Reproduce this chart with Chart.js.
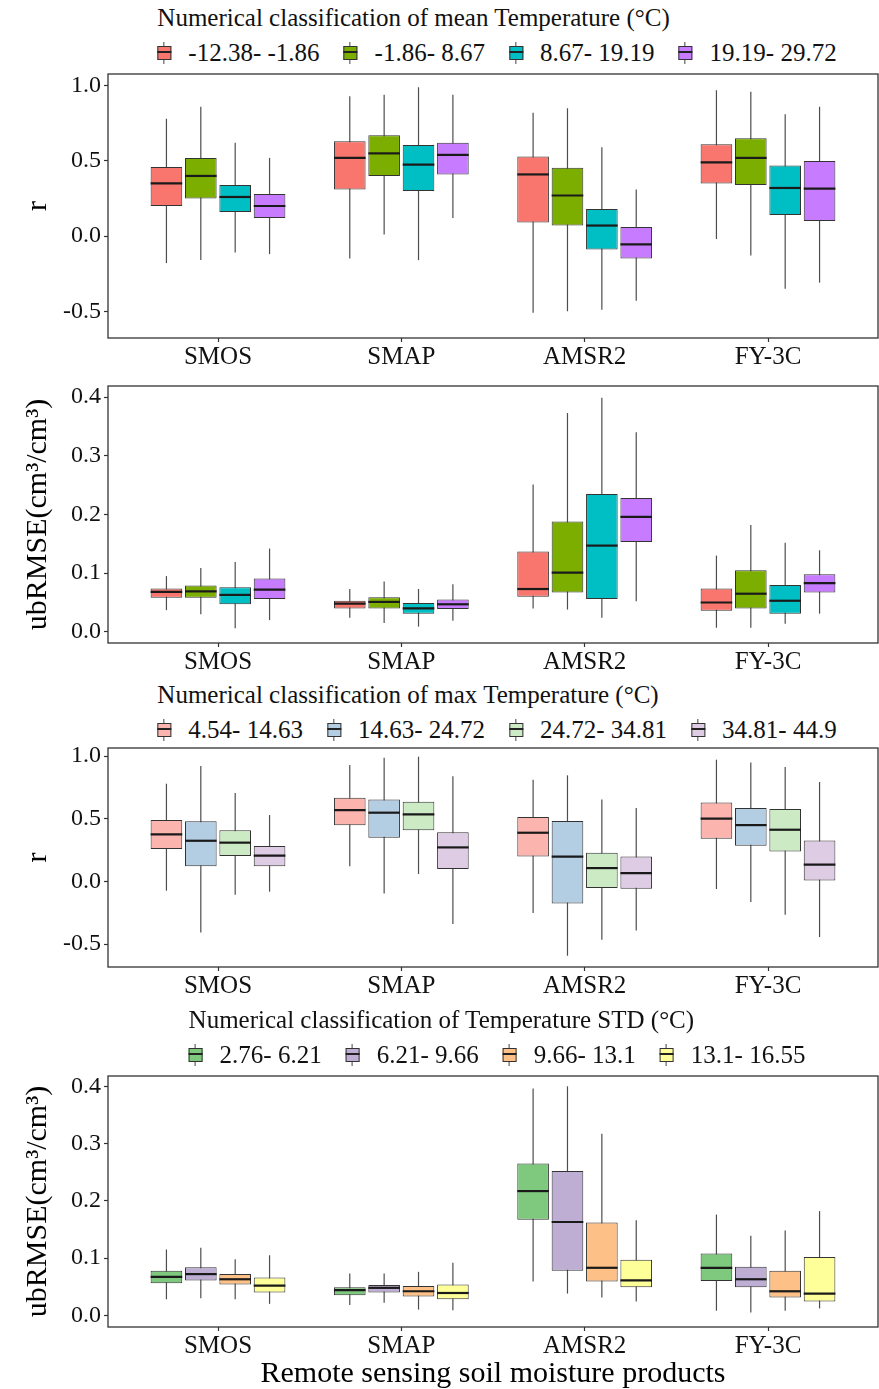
<!DOCTYPE html>
<html>
<head>
<meta charset="utf-8">
<title>Soil moisture products by temperature class</title>
<script src="https://cdn.jsdelivr.net/npm/chart.js@4.4.3/dist/chart.umd.min.js"></script>
<style>
    body { margin: 0; background: #fff; }
    #page {
        position: relative;
        width: 879px;
        height: 1389px;
        overflow: hidden;
        font-family: 'Liberation Serif', 'Times New Roman', serif;
        color: #111;
    }
    canvas { position: absolute; left: 0; }
    .legend {
        position: absolute;
        left: 497px;
        transform: translateX(-50%);
        white-space: nowrap;
    }
    .legend-title { font-size: 25px; line-height: 25px; height: 25px; }
    .legend-row { display: flex; align-items: center; margin-top: 10px; height: 25px; }
    .legend-item { display: flex; align-items: center; margin-right: 24px; font-size: 25px; line-height: 25px; }
    .legend-item:last-child { margin-right: 0; }
    .key { position: relative; width: 14px; height: 22px; margin-right: 17px; flex: none; }
    .key .wh { position: absolute; left: 6px; top: 0; width: 1px; height: 22px; background: #444; }
    .key .bx { position: absolute; left: 0; top: 4px; width: 12px; height: 12px; border: 1px solid #333; }
    .key .md { position: absolute; left: 0; top: 9px; width: 14px; height: 2px; background: #222; }
</style>
</head>
<body>
<div id="page">
    <div class="legend" id="legendMean" style="top:5px"></div>
    <canvas id="chartMeanR" width="879" height="310" style="top:70px"></canvas>
    <canvas id="chartMeanUb" width="879" height="300" style="top:380px"></canvas>
    <div class="legend" id="legendMax" style="top:682px"></div>
    <canvas id="chartMaxR" width="879" height="265" style="top:742px"></canvas>
    <div class="legend" id="legendStd" style="top:1007px"></div>
    <canvas id="chartStdUb" width="879" height="319" style="top:1070px"></canvas>
</div>

<script>
    'use strict';

    // ---- data ----
    const products = ['SMOS', 'SMAP', 'AMSR2', 'FY-3C'];
    const rTicks = [-0.5, 0.0, 0.5, 1.0];
    const ubTicks = [0.0, 0.1, 0.2, 0.3, 0.4];

    const meanClasses = ['-12.38- -1.86', '-1.86- 8.67', '8.67- 19.19', '19.19- 29.72'];
    const maxClasses = ['4.54- 14.63', '14.63- 24.72', '24.72- 34.81', '34.81- 44.9'];
    const stdClasses = ['2.76- 6.21', '6.21- 9.66', '9.66- 13.1', '13.1- 16.55'];

    // each row = one class, each column = one product (SMOS, SMAP, AMSR2, FY-3C)
    // r by mean temperature
    const meanRLow = [[-0.18, -0.15, -0.51, -0.02], [-0.16, 0.01, -0.50, -0.13], [-0.11, -0.16, -0.49, -0.35], [-0.12, 0.12, -0.43, -0.31]];
    const meanRQ1 = [[0.20, 0.31, 0.09, 0.35], [0.25, 0.40, 0.07, 0.34], [0.16, 0.30, -0.09, 0.14], [0.12, 0.41, -0.15, 0.10]];
    const meanRMed = [[0.35, 0.52, 0.41, 0.49], [0.40, 0.55, 0.27, 0.52], [0.26, 0.475, 0.07, 0.32], [0.20, 0.54, -0.055, 0.315]];
    const meanRQ3 = [[0.46, 0.63, 0.53, 0.61], [0.52, 0.67, 0.455, 0.65], [0.34, 0.605, 0.18, 0.47], [0.28, 0.62, 0.06, 0.50]];
    const meanRHigh = [[0.78, 0.93, 0.82, 0.97], [0.86, 0.94, 0.85, 0.96], [0.62, 0.99, 0.59, 0.81], [0.52, 0.94, 0.31, 0.86]];

    // ubRMSE by mean temperature
    const meanUbLow = [[0.037, 0.024, 0.040, 0.007], [0.030, 0.015, 0.038, 0.007], [0.006, 0.009, 0.024, 0.014], [0.020, 0.019, 0.052, 0.031]];
    const meanUbQ1 = [[0.058, 0.040, 0.060, 0.036], [0.058, 0.040, 0.067, 0.040], [0.047, 0.031, 0.056, 0.031], [0.056, 0.039, 0.153, 0.067]];
    const meanUbMed = [[0.068, 0.048, 0.073, 0.050], [0.069, 0.051, 0.101, 0.065], [0.063, 0.040, 0.147, 0.053], [0.072, 0.047, 0.196, 0.083]];
    const meanUbQ3 = [[0.074, 0.053, 0.137, 0.074], [0.079, 0.059, 0.188, 0.105], [0.076, 0.049, 0.235, 0.080], [0.091, 0.055, 0.228, 0.098]];
    const meanUbHigh = [[0.095, 0.073, 0.251, 0.130], [0.109, 0.086, 0.373, 0.182], [0.119, 0.073, 0.399, 0.152], [0.142, 0.081, 0.340, 0.139]];

    // r by max temperature
    const maxRLow = [[-0.074, 0.12, -0.253, -0.061], [-0.407, -0.096, -0.593, -0.165], [-0.106, 0.059, -0.465, -0.266], [-0.082, -0.34, -0.391, -0.444]];
    const maxRQ1 = [[0.258, 0.447, 0.199, 0.34], [0.12, 0.348, -0.176, 0.285], [0.202, 0.407, -0.053, 0.239], [0.12, 0.098, -0.059, 0.008]];
    const maxRMed = [[0.375, 0.569, 0.388, 0.50], [0.324, 0.548, 0.197, 0.449], [0.309, 0.535, 0.106, 0.412], [0.205, 0.271, 0.066, 0.133]];
    const maxRQ3 = [[0.489, 0.668, 0.513, 0.63], [0.479, 0.654, 0.481, 0.585], [0.407, 0.636, 0.229, 0.577], [0.282, 0.391, 0.199, 0.327]];
    const maxRHigh = [[0.779, 0.928, 0.811, 0.971], [0.92, 0.987, 0.846, 0.949], [0.705, 0.995, 0.654, 0.912], [0.529, 0.838, 0.585, 0.793]];

    // ubRMSE by temperature STD
    const stdUbLow = [[0.028, 0.018, 0.059, 0.008], [0.030, 0.022, 0.038, 0.005], [0.028, 0.010, 0.031, 0.008], [0.020, 0.009, 0.024, 0.012]];
    const stdUbQ1 = [[0.056, 0.035, 0.167, 0.060], [0.061, 0.040, 0.078, 0.049], [0.054, 0.033, 0.059, 0.031], [0.040, 0.028, 0.049, 0.024]];
    const stdUbMed = [[0.067, 0.044, 0.217, 0.083], [0.072, 0.048, 0.163, 0.063], [0.063, 0.042, 0.083, 0.042], [0.052, 0.039, 0.061, 0.038]];
    const stdUbQ3 = [[0.078, 0.049, 0.265, 0.108], [0.084, 0.053, 0.252, 0.085], [0.072, 0.051, 0.162, 0.078], [0.066, 0.054, 0.097, 0.102]];
    const stdUbHigh = [[0.115, 0.073, 0.396, 0.176], [0.118, 0.073, 0.400, 0.139], [0.098, 0.076, 0.317, 0.148], [0.105, 0.092, 0.166, 0.182]];

    // ---- palettes ----
    const hueColors = ['#F8766D', '#7CAE00', '#00BFC4', '#C77CFF'];
    const pastelColors = ['#FBB4AE', '#B3CDE3', '#CCEBC5', '#DECBE4'];
    const accentColors = ['#7FC97F', '#BEAED4', '#FDC086', '#FFFF99'];

    const SERIF = "'Liberation Serif', 'Times New Roman', serif";
    Chart.defaults.font.family = SERIF;
    Chart.defaults.color = '#111';

    /**
     * Whiskers behind the boxes, medians and the panel frame on top
     */
    const boxParts = {
        id: 'boxParts',
        beforeDatasetsDraw(chart) {
            const { ctx } = chart;
            const yScale = chart.scales.y;
            ctx.save();
            ctx.strokeStyle = '#4d4d4d';
            ctx.lineWidth = 1.2;
            chart.data.datasets.forEach((ds, k) => {
                chart.getDatasetMeta(k).data.forEach((bar, i) => {
                    ctx.beginPath();
                    ctx.moveTo(bar.x, yScale.getPixelForValue(ds.lo[i]));
                    ctx.lineTo(bar.x, yScale.getPixelForValue(ds.hi[i]));
                    ctx.stroke();
                });
            });
            ctx.restore();
        },
        afterDatasetsDraw(chart) {
            const { ctx, chartArea } = chart;
            const yScale = chart.scales.y;
            ctx.save();
            ctx.strokeStyle = '#1a1a1a';
            ctx.lineWidth = 2.2;
            chart.data.datasets.forEach((ds, k) => {
                chart.getDatasetMeta(k).data.forEach((bar, i) => {
                    const y = yScale.getPixelForValue(ds.med[i]);
                    ctx.beginPath();
                    ctx.moveTo(bar.x - bar.width / 2, y);
                    ctx.lineTo(bar.x + bar.width / 2, y);
                    ctx.stroke();
                });
            });
            ctx.strokeStyle = '#333';
            ctx.lineWidth = 1.3;
            ctx.strokeRect(chartArea.left, chartArea.top, chartArea.right - chartArea.left, chartArea.bottom - chartArea.top);
            ctx.restore();
        },
    };

    function buildChart(id, o) {
        const datasets = o.classes.map((name, k) => ({
            label: name,
            data: products.map((p, i) => ({ x: i + 1, y: [o.q1[k][i], o.q3[k][i]] })),
            lo: o.lo[k],
            med: o.med[k],
            hi: o.hi[k],
            backgroundColor: o.colors[k],
            borderColor: '#333',
            borderWidth: 1,
            borderSkipped: false,
            categoryPercentage: 0.75,
            barPercentage: 0.92,
        }));

        return new Chart(document.getElementById(id), {
            type: 'bar',
            data: { datasets },
            plugins: [boxParts],
            options: {
                responsive: false,
                animation: false,
                events: [],
                layout: { padding: { top: o.padTop, right: 1, left: 0, bottom: 0 } },
                plugins: {
                    legend: { display: false },
                    tooltip: { enabled: false },
                },
                scales: {
                    x: {
                        type: 'linear',
                        min: 0.4,
                        max: 4.6,
                        offset: false,
                        afterBuildTicks: (s) => {
                            s.ticks = products.map((p, i) => ({ value: i + 1 }));
                        },
                        afterFit: (s) => {
                            s.height = o.xHeight;
                            s.paddingLeft = 0;
                            s.paddingRight = 0;
                        },
                        ticks: {
                            callback: (v) => products[v - 1],
                            autoSkip: false,
                            maxRotation: 0,
                            padding: 3,
                            color: '#111',
                            font: { size: 25, lineHeight: 1 },
                        },
                        grid: {
                            offset: false,
                            drawOnChartArea: false,
                            drawTicks: true,
                            tickLength: 4,
                            tickColor: '#333',
                            tickWidth: 1.2,
                        },
                        border: { display: false },
                        title: o.xTitle
                            ? {
                                  display: true,
                                  text: o.xTitle,
                                  color: '#000',
                                  font: { size: 30, lineHeight: 1.1 },
                                  padding: { top: 0, bottom: -2 },
                              }
                            : { display: false },
                    },
                    y: {
                        min: o.yMin,
                        max: o.yMax,
                        afterBuildTicks: (s) => {
                            s.ticks = o.yTicks.map((v) => ({ value: v }));
                        },
                        afterFit: (s) => {
                            s.width = 108;
                            s.paddingTop = 0;
                            s.paddingBottom = 0;
                        },
                        ticks: {
                            callback: (v) => v.toFixed(1),
                            padding: 3,
                            color: '#111',
                            font: { size: 24, lineHeight: 1 },
                        },
                        grid: {
                            drawOnChartArea: false,
                            drawTicks: true,
                            tickLength: 4,
                            tickColor: '#333',
                            tickWidth: 1.2,
                        },
                        border: { display: false },
                        title: {
                            display: true,
                            text: o.yTitle,
                            color: '#000',
                            font: { size: 30, lineHeight: 1.2 },
                            padding: { top: 20, bottom: 0 },
                        },
                    },
                },
            },
        });
    }

    function buildLegend(id, title, classes, colors) {
        const box = document.getElementById(id);
        const heading = document.createElement('div');
        heading.className = 'legend-title';
        heading.textContent = title;
        box.appendChild(heading);

        const row = document.createElement('div');
        row.className = 'legend-row';
        classes.forEach((name, k) => {
            const item = document.createElement('div');
            item.className = 'legend-item';
            const key = document.createElement('span');
            key.className = 'key';
            key.innerHTML = '<span class="wh"></span><span class="bx"></span><span class="md"></span>';
            key.querySelector('.bx').style.background = colors[k];
            const label = document.createElement('span');
            label.textContent = name;
            item.appendChild(key);
            item.appendChild(label);
            row.appendChild(item);
        });
        box.appendChild(row);
    }

    buildLegend('legendMean', 'Numerical classification of mean Temperature (\u00B0C)', meanClasses, hueColors);
    buildLegend('legendMax', 'Numerical classification of max Temperature (\u00B0C)', maxClasses, pastelColors);
    buildLegend('legendStd', 'Numerical classification of Temperature STD (\u00B0C)', stdClasses, accentColors);

    buildChart('chartMeanR', {
        classes: meanClasses, colors: hueColors,
        lo: meanRLow, q1: meanRQ1, med: meanRMed, q3: meanRQ3, hi: meanRHigh,
        yMin: -0.678, yMax: 1.078, yTicks: rTicks, yTitle: 'r',
        padTop: 4, xHeight: 42,
    });

    buildChart('chartMeanUb', {
        classes: meanClasses, colors: hueColors,
        lo: meanUbLow, q1: meanUbQ1, med: meanUbMed, q3: meanUbQ3, hi: meanUbHigh,
        yMin: -0.019, yMax: 0.419, yTicks: ubTicks, yTitle: 'ubRMSE(cm\u00B3/cm\u00B3)',
        padTop: 6, xHeight: 37,
    });

    buildChart('chartMaxR', {
        classes: maxClasses, colors: pastelColors,
        lo: maxRLow, q1: maxRQ1, med: maxRMed, q3: maxRQ3, hi: maxRHigh,
        yMin: -0.683, yMax: 1.064, yTicks: rTicks, yTitle: 'r',
        padTop: 6, xHeight: 40,
    });

    buildChart('chartStdUb', {
        classes: stdClasses, colors: accentColors,
        lo: stdUbLow, q1: stdUbQ1, med: stdUbMed, q3: stdUbQ3, hi: stdUbHigh,
        yMin: -0.0204, yMax: 0.418, yTicks: ubTicks, yTitle: 'ubRMSE(cm\u00B3/cm\u00B3)',
        xTitle: 'Remote sensing soil moisture products',
        padTop: 6, xHeight: 62,
    });
</script>
</body>
</html>
